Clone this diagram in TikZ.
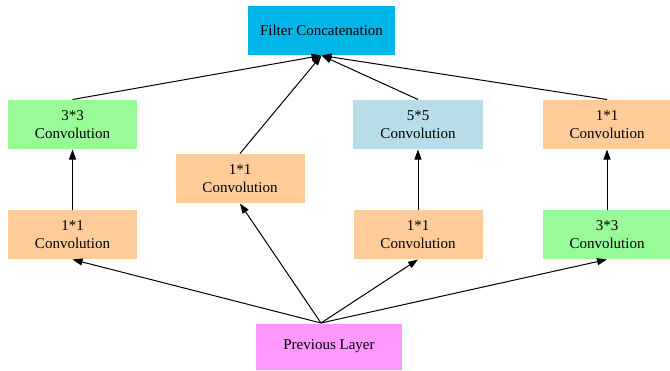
\documentclass[tikz,border=0pt]{standalone}
\usepackage{fontspec}
\setmainfont{Liberation Serif}
\usepackage{tikz}
\usetikzlibrary{positioning,arrows.meta}
\definecolor{catcolor}{RGB}{0,181,232}
\definecolor{onecolor}{RGB}{255,204,153}
\definecolor{threecolor}{RGB}{152,251,152}
\definecolor{fivecolor}{RGB}{182,221,232}
\definecolor{prevcolor}{RGB}{255,153,255}

\begin{document}
\begin{tikzpicture}[%
    x=1pt, y=-1pt,                      % pixel-like units, y runs down
    >={Triangle[length=10pt,width=7pt]}, % Graphviz-like arrow heads
    node distance=94pt and 249pt,       % Global setup of box spacing
    every path/.style={line width=1pt},
    ]
\tikzset{
  base/.style={on grid, align=center, inner sep=0pt, minimum height=49pt,
    font=\fontsize{15}{18.5}\selectfont},
  onebox/.style={base, fill=onecolor, minimum width=129pt},
  threebox/.style={base, fill=threecolor, minimum width=129pt},
  fivebox/.style={base, fill=fivecolor, minimum width=130pt},
  catbox/.style={base, fill=catcolor, minimum width=147pt},
  inbox/.style={base, fill=prevcolor, minimum width=146pt, minimum height=46pt},
}
\useasboundingbox (0,0) rectangle (670,370);

\node [catbox] (cat) at (321.5,30.5) {Filter Concatenation};
\node [threebox, below left=94pt and 249pt of cat] (b1top) {3*3\\Convolution};
\node [onebox, below left=148pt and 81.5pt of cat] (b2) {1*1\\Convolution};
\node [fivebox, below right=94pt and 96.5pt of cat] (b3top) {5*5\\Convolution};
\node [onebox, below right=94pt and 285.5pt of cat] (b4top) {1*1\\Convolution};
\node [onebox, below=110pt of b1top] (b1bot) {1*1\\Convolution};
\node [onebox, below=110pt of b3top] (b3bot) {1*1\\Convolution};
\node [threebox, below=110pt of b4top] (b4bot) {3*3\\Convolution};
\node [inbox, below right=316pt and 7.5pt of cat] (prev) {Previous Layer};
\coordinate [left=8pt of prev.north] (fork);

\draw [->] (fork) -- (b1bot.south);
\draw [->] (fork) -- (b2.south);
\draw [->] (fork) -- (b3bot.south);
\draw [->] (fork) -- (b4bot.south);
\draw [->] (b1bot.north) -- (b1top.south);
\draw [->] (b3bot.north) -- (b3top.south);
\draw [->] (b4bot.north) -- (b4top.south);
\draw [->] (b1top.north) -- (cat.south);
\draw [->] (b2.north) -- (cat.south);
\draw [->] (b3top.north) -- (cat.south);
\draw [->] (b4top.north) -- (cat.south);

\end{tikzpicture}
\end{document}
